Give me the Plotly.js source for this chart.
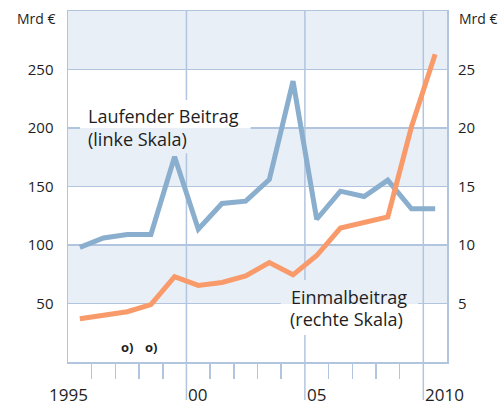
<!DOCTYPE html>
<html>
<head>
<meta charset="utf-8">
<script src="https://cdn.plot.ly/plotly-3.0.1.min.js"></script>
<style>html,body{margin:0;padding:0;background:#fff;}#chart{width:504px;height:405px;}</style>
</head>
<body>
<div id="chart"></div>
<script>
// ---- data ----
const years = [1995,1996,1997,1998,1999,2000,2001,2002,2003,2004,2005,2006,2007,2008,2009,2010];
const laufenderBeitrag = [98,106,109,109,175.5,113.5,135.5,137.5,156,240,122,146,141.5,155.5,131,131];   // Mrd €, left scale
const einmalbeitrag    = [3.7,4.0,4.3,4.9,7.3,6.55,6.8,7.35,8.5,7.45,9.1,11.45,11.9,12.4,20.1,26.3]; // Mrd €, right scale
const leftTicks  = [50,100,150,200,250];
const rightTicks = [5,10,15,20,25];
const bandStarts = [50,150,250];
const bandSize = 50;
const xLabelYears = [1995,2000,2005,2010];
const xLabelText  = ['1995','00','05','2010'];
const minorTickYears = [1996,1997,1998,1999,2001,2002,2003,2004,2006,2007,2008,2009];
const majorLineYears = [2000,2005,2010];
const footnoteYears = [1997,1998];

// ---- styles ----
const gridColor = '#b2c5df';
const bandColor = '#e9eff7';
const blue = '#8aaecd';
const orange = '#f99a6b';
const textColor = '#1e1e1e';
const FONT = 'Open Sans, Noto Sans, sans-serif';

const mid = ys => ys.map(y => y + 0.5);

const traces = [
  {x: mid(years), y: laufenderBeitrag, type:'scatter', mode:'lines', line:{color:blue, width:5}, yaxis:'y', hoverinfo:'skip'},
  {x: mid(years), y: einmalbeitrag, type:'scatter', mode:'lines', line:{color:orange, width:5}, yaxis:'y2', hoverinfo:'skip'}
];

const shapes = [];
bandStarts.forEach(b => shapes.push({type:'rect', xref:'paper', yref:'y', x0:0, x1:1, y0:b, y1:b+bandSize, fillcolor:bandColor, line:{width:0}, layer:'below'}));
majorLineYears.forEach(yr => shapes.push({type:'line', xref:'x', yref:'paper', x0:yr, x1:yr, y0:-0.108, y1:1, line:{color:gridColor, width:1.5}, layer:'below'}));

// label background masks (hide grid lines behind the series labels)
function mask(x0, x1, y0, y1, bg){
  shapes.push({type:'rect', xref:'x', yref:'y', x0:x0, x1:x1, y0:y0, y1:y1, fillcolor:bg, line:{width:0}, layer:'between'});
}
mask(1995.51, 2002.71, 200, 224, '#ffffff');
mask(1995.51, 2002.71, 178.5, 200, bandColor);
mask(2003.98, 2009.78, 50, 70, bandColor);
mask(2003.98, 2009.78, 23, 50, '#ffffff');

const annotations = [];
xLabelYears.forEach((yr,i) => annotations.push({
  x: yr, xref:'x', y:-0.094, yref:'paper', text:xLabelText[i], showarrow:false,
  xanchor: i===0 ? 'center' : 'left', yanchor:'middle',
  font:{family:FONT, size:17, color:textColor}
}));
annotations.push({x:0, xref:'paper', y:0.98, yref:'paper', text:'Mrd €', showarrow:false, xanchor:'right', xshift:-10, yanchor:'middle', font:{family:FONT, size:14, color:textColor}});
annotations.push({x:1, xref:'paper', y:0.98, yref:'paper', text:'Mrd €', showarrow:false, xanchor:'left', xshift:10, yanchor:'middle', font:{family:FONT, size:14, color:textColor}});

// series labels
function label(x, y, txt){
  annotations.push({x:x, xref:'x', y:y, yref:'y', text:txt, showarrow:false, xanchor:'left', yanchor:'middle', borderpad:0,
    font:{family:FONT, size:18, color:textColor}});
}
label(1995.82, 210.0, 'Laufender Beitrag');
label(1995.82, 190.6, '(linke Skala)');
label(2004.36, 55.8, 'Einmalbeitrag');
label(2004.34, 36.5, '(rechte Skala)');

footnoteYears.forEach(yr => annotations.push({x:yr+0.5, xref:'x', y:13, yref:'y', text:'<b>o)</b>', showarrow:false, xanchor:'center', yanchor:'middle', font:{family:FONT, size:13, color:textColor}}));

const layout = {
  width:504, height:405,
  margin:{l:68, r:57, t:11, b:43, pad:0},
  paper_bgcolor:'#ffffff', plot_bgcolor:'rgba(0,0,0,0)',
  showlegend:false,
  xaxis:{range:[1995,2011], tickvals:minorTickYears, ticks:'outside', ticklen:15, tickwidth:1.5, tickcolor:gridColor,
         showticklabels:false, showgrid:false, zeroline:false, showline:true, linecolor:gridColor, linewidth:1.5, mirror:true, fixedrange:true},
  yaxis:{range:[0,300], tickvals:leftTicks, ticks:'', showgrid:true, gridcolor:gridColor, gridwidth:1.5, zeroline:false,
         showline:true, linecolor:gridColor, linewidth:1.5, mirror:true, ticklabelstandoff:10,
         tickfont:{family:FONT, size:15, color:textColor}, fixedrange:true},
  yaxis2:{range:[0,30], tickvals:rightTicks, overlaying:'y', side:'right', showgrid:false, zeroline:false, ticks:'',
          showline:false, ticklabelstandoff:10, tickfont:{family:FONT, size:15, color:textColor}, fixedrange:true},
  shapes:shapes, annotations:annotations
};

Plotly.newPlot('chart', traces, layout, {displayModeBar:false, staticPlot:true});
</script>
</body>
</html>
